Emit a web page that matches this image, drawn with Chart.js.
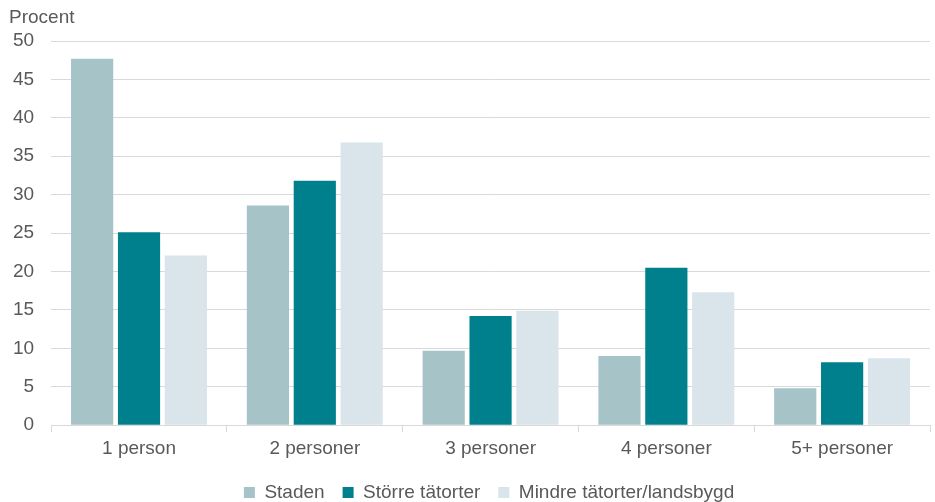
<!DOCTYPE html>
<html>
<head>
<meta charset="utf-8">
<script src="https://cdn.jsdelivr.net/npm/chart.js@4"></script>
<style>
  html, body { margin: 0; padding: 0; background: #fff; }
  #wrap { width: 935px; height: 502px; }
</style>
</head>
<body>
<div id="wrap"><canvas id="chart" width="935" height="502"></canvas></div>
<script>
// Hushållsstorlek per område (procent)
const categories = ['1 person', '2 personer', '3 personer', '4 personer', '5+ personer'];
const staden = [47.7, 28.6, 9.7, 9.0, 4.8];
const storreTatorter = [25.1, 31.8, 14.2, 20.5, 8.2];
const mindreTatorter = [22.1, 36.8, 14.9, 17.3, 8.7];
const yTicks = [0, 5, 10, 15, 20, 25, 30, 35, 40, 45, 50];

const textColor = '#595959';
const gridColor = '#d9d9d9';
const fontFamily = '"Liberation Sans", Arial, sans-serif';
const fontSize = 19;

// draws the "Procent" unit label above the y axis
const unitLabel = {
  id: 'unitLabel',
  afterDraw(chart) {
    const ctx = chart.ctx;
    ctx.save();
    ctx.font = fontSize + 'px ' + fontFamily;
    ctx.fillStyle = textColor;
    ctx.textBaseline = 'middle';
    ctx.fillText('Procent', 9, 18);
    ctx.restore();
  }
};

// centre the legend under the plot area instead of the whole canvas
const legendUnderPlot = {
  id: 'legendUnderPlot',
  afterLayout(chart) {
    const lg = chart.legend;
    if (lg) lg.left += chart.chartArea.left + chart.chartArea.right - chart.width + 6;
  }
};

new Chart(document.getElementById('chart').getContext('2d'), {
  type: 'bar',
  data: {
    labels: categories,
    datasets: [
      { label: 'Staden', data: staden, backgroundColor: '#a6c3c8' },
      { label: 'Större tätorter', data: storreTatorter, backgroundColor: '#00808c' },
      { label: 'Mindre tätorter/landsbygd', data: mindreTatorter, backgroundColor: '#d9e5ea' }
    ]
  },
  options: {
    responsive: false,
    animation: false,
    devicePixelRatio: 1,
    categoryPercentage: 0.8,
    barPercentage: 0.9,
    layout: { padding: { top: 41, right: 5, left: -4, bottom: -10 } },
    plugins: {
      legend: {
        position: 'bottom',
        labels: {
          color: textColor,
          font: { family: fontFamily, size: fontSize },
          boxWidth: 11,
          boxHeight: 11,
          padding: 18
        }
      },
      tooltip: { enabled: false }
    },
    scales: {
      x: {
        grid: {
          display: true,
          drawOnChartArea: false,
          drawTicks: true,
          tickLength: 7,
          color: gridColor,
          offset: true
        },
        border: { display: true, color: gridColor },
        ticks: {
          color: textColor,
          font: { family: fontFamily, size: fontSize },
          padding: 5
        }
      },
      y: {
        min: 0,
        max: 50,
        afterBuildTicks(axis) {
          axis.ticks = yTicks.map(v => ({ value: v }));
        },
        grid: { color: gridColor, drawTicks: false },
        border: { display: false },
        ticks: {
          color: textColor,
          font: { family: fontFamily, size: fontSize },
          padding: 17
        }
      }
    }
  },
  plugins: [unitLabel, legendUnderPlot]
});
</script>
</body>
</html>
